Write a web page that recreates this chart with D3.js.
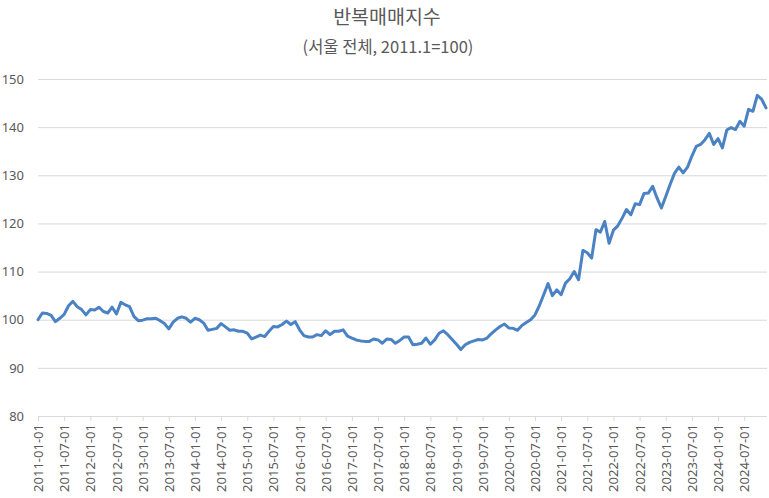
<!DOCTYPE html>
<html><head><meta charset="utf-8">
<script src="https://cdn.jsdelivr.net/npm/d3@7"></script>
<style>
body{margin:0;background:#fff;}
svg{display:block;font-family:"Noto Sans CJK KR","Noto Sans",sans-serif;}
</style></head>
<body>
<svg id="c" width="769" height="498"></svg>
<script>
const title = "반복매매지수";
const subtitle = "(서울 전체, 2011.1=100)";
const values = [
100.0,101.4,101.3,100.9,99.6,100.3,101.1,102.9,103.8,102.7,102.1,101.0,
102.1,102.0,102.6,101.7,101.4,102.6,101.2,103.6,103.1,102.7,100.7,99.8,
99.9,100.2,100.2,100.3,99.8,99.2,98.1,99.5,100.3,100.6,100.3,99.5,
100.3,100.0,99.3,97.8,98.0,98.2,99.2,98.5,97.8,97.9,97.6,97.6,
97.2,96.0,96.4,96.8,96.5,97.6,98.6,98.5,99.0,99.7,99.0,99.6,
97.9,96.7,96.4,96.4,96.9,96.7,97.7,96.9,97.6,97.6,97.9,96.6,
96.2,95.8,95.6,95.5,95.5,96.0,95.8,95.1,96.0,95.9,95.1,95.7,
96.4,96.4,94.8,94.9,95.1,96.2,94.9,95.8,97.2,97.7,96.9,95.9,
94.9,93.8,94.8,95.3,95.6,95.9,95.8,96.2,97.1,97.9,98.6,99.1,
98.3,98.2,97.8,98.8,99.4,100.0,101.0,102.9,105.2,107.5,105.0,106.2,
105.2,107.6,108.5,110.0,108.3,114.4,113.9,112.8,118.7,118.2,120.4,115.9,
118.6,119.5,121.1,122.9,121.8,124.1,123.9,126.2,126.3,127.7,125.3,123.2,
125.6,128.1,130.4,131.7,130.5,131.7,134.0,136.0,136.4,137.4,138.7,136.4,
137.6,135.7,139.4,139.9,139.5,141.2,140.2,143.7,143.3,146.6,145.8,144.0
];
const yTicks = [80,90,100,110,120,130,140,150];
const xTickLabels = ["2011-01-01","2011-07-01","2012-01-01","2012-07-01","2013-01-01","2013-07-01",
"2014-01-01","2014-07-01","2015-01-01","2015-07-01","2016-01-01","2016-07-01","2017-01-01","2017-07-01",
"2018-01-01","2018-07-01","2019-01-01","2019-07-01","2020-01-01","2020-07-01","2021-01-01","2021-07-01",
"2022-01-01","2022-07-01","2023-01-01","2023-07-01","2024-01-01","2024-07-01"];

const svg = d3.select("#c");
const L = 38, R = 766, T = 79, B = 416;
const x = d3.scaleLinear().domain([0, values.length - 1]).range([L, R]);
const y = d3.scaleLinear().domain([80, 150]).range([B, T]);
const grey = "#595959";

svg.append("text").attr("x", 387).attr("y", 23.5).attr("text-anchor", "middle")
  .attr("font-size", 19.5).attr("fill", grey).text(title);
svg.append("text").attr("x", 388).attr("y", 53).attr("text-anchor", "middle")
  .attr("font-size", 16.5).attr("fill", grey).text(subtitle);

const yAxis = d3.axisLeft(y).tickValues(yTicks).tickSize(-(767 - L)).tickPadding(14);
const gy = svg.append("g").attr("transform", `translate(${L},0)`).call(yAxis);
gy.select(".domain").remove();
gy.selectAll(".tick line").attr("stroke", "#d9d9d9").attr("stroke-width", 1);
gy.selectAll(".tick text").attr("fill", grey).attr("font-size", 13)
  .attr("font-family", "'Noto Sans','Liberation Sans',sans-serif");

const monthIdx = xTickLabels.map((d, i) => i * 6);
const xAxis = d3.axisBottom(x).tickValues(monthIdx).tickSize(5)
  .tickFormat((d, i) => xTickLabels[i]).tickSizeOuter(0);
const gx = svg.append("g").attr("transform", `translate(0,${B})`).call(xAxis);
gx.select(".domain").attr("stroke", "#d9d9d9").attr("d", `M${L},0.5H767`);
gx.selectAll(".tick line").attr("stroke", "#d9d9d9");
gx.selectAll(".tick text").attr("fill", grey).attr("font-size", 13)
  .attr("font-family", "'Noto Sans','Liberation Sans',sans-serif")
  .attr("transform", "rotate(-90)").attr("text-anchor", "end")
  .attr("dy", "0.35em").attr("x", -8).attr("y", 0);

const line = d3.line().x((d, i) => x(i)).y(d => y(d));
svg.append("path").datum(values).attr("d", line).attr("fill", "none")
  .attr("stroke", "#4a82c4").attr("stroke-width", 3).attr("stroke-linejoin", "round")
  .attr("stroke-linecap", "round");
</script>
</body></html>
